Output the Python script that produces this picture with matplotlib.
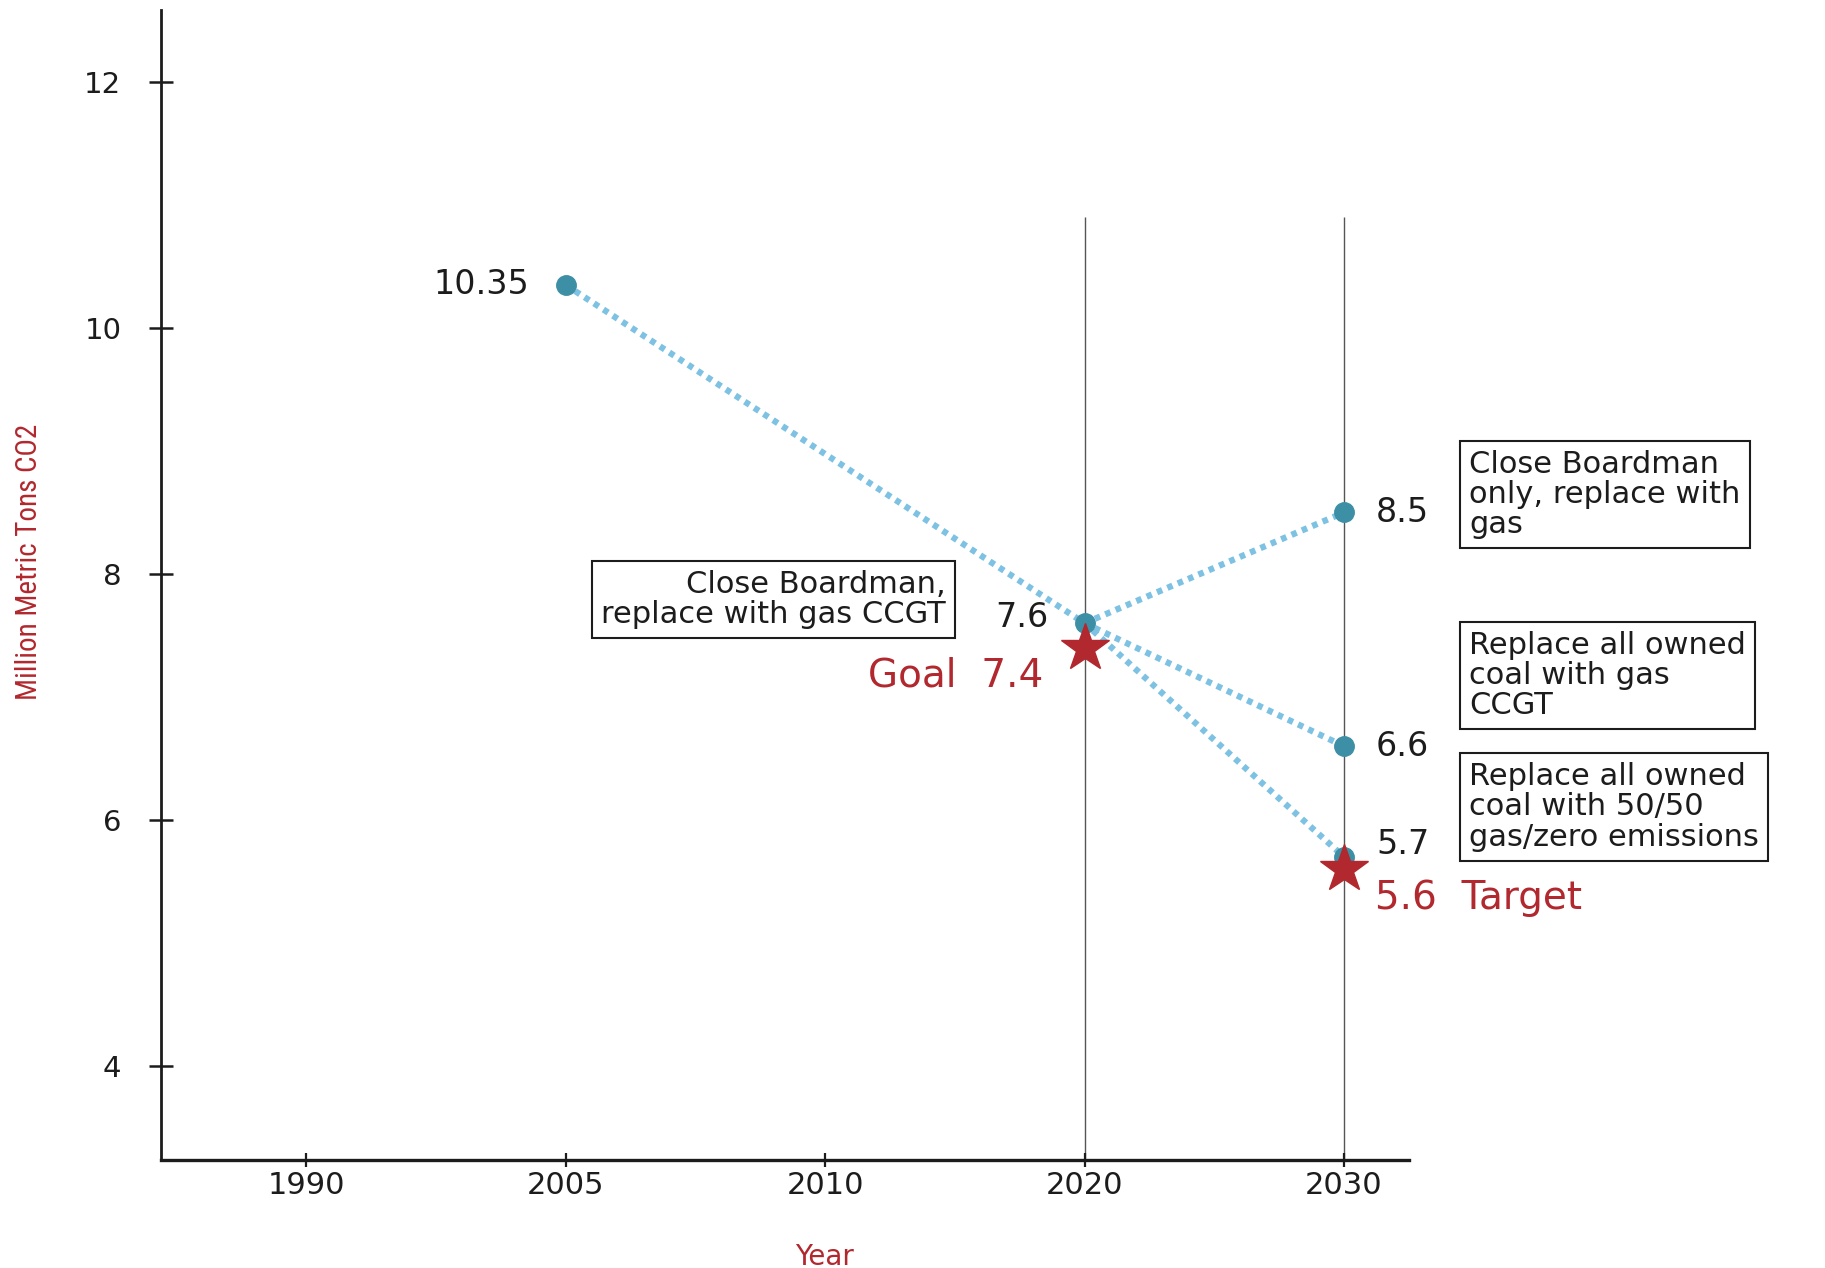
import matplotlib
matplotlib.use("Agg")
import matplotlib.pyplot as plt
from matplotlib import font_manager

# emissions path, million metric tons CO2
years = ["1990", "2005", "2010", "2020", "2030"]
hist_x = [1, 3]
hist_y = [10.35, 7.6]
scenario_y = [8.5, 6.6, 5.7]
scenario_notes = [
    "Close Boardman\nonly, replace with\ngas",
    "Replace all owned\ncoal with gas\nCCGT",
    "Replace all owned\ncoal with 50/50\ngas/zero emissions",
]
goal_2020 = 7.4
target_2030 = 5.6
yticks = [4, 6, 8, 10, 12]

RED = "#b1282e"
TEAL = "#3d8fa6"
DOTS = "#7dc1e3"
INK = "#1c1c1c"

plt.rcParams["font.family"] = ["DejaVu Sans"]

# narrow face for the axis title, if one is around
available = {f.name for f in font_manager.fontManager.ttflist}
narrow = "DejaVu Sans"
for name in ["Liberation Sans Narrow", "DejaVu Sans Condensed", "Roboto Condensed"]:
    if name in available:
        narrow = name
        break

fig = plt.figure(figsize=(18.25, 12.68), dpi=100)
ax = fig.add_axes([0.0882, 0.0852, 0.6838, 0.9069])
ax.set_xlim(-0.56, 4.25)
ax.set_ylim(3.236, 12.585)

for s in ["top", "right"]:
    ax.spines[s].set_visible(False)
ax.spines["left"].set_linewidth(2.0)
ax.spines["bottom"].set_linewidth(2.4)
ax.spines["left"].set_color(INK)
ax.spines["bottom"].set_color(INK)

ax.set_xticks(range(len(years)))
ax.set_xticklabels(years)
ax.set_yticks(yticks)
ax.tick_params(axis="y", direction="inout", length=17, width=1.8, pad=20,
               labelsize=21, colors=INK)
ax.tick_params(axis="x", direction="inout", length=10, width=1.6, pad=3,
               labelsize=22, colors=INK)

# reference lines for the projection years
ax.vlines([3, 4], ax.get_ylim()[0], 10.9, color="#555555", lw=1.0, zorder=1)

# dotted paths
style = dict(color=DOTS, lw=4.5, ls=(0, (0.9, 0.9)), dash_capstyle="butt", zorder=2)
ax.plot(hist_x, hist_y, **style)
for v in scenario_y:
    ax.plot([3, 4], [hist_y[-1], v], **style)

ax.plot(hist_x, hist_y, "o", color=TEAL, ms=14, zorder=4)
ax.plot([4] * len(scenario_y), scenario_y, "o", color=TEAL, ms=14, zorder=4)

ax.plot(3, goal_2020, "*", color=RED, ms=36, mec=RED, zorder=5)
ax.plot(4, target_2030, "*", color=RED, ms=36, mec=RED, zorder=5)

# value labels
ax.annotate(f"{hist_y[0]:.2f}", (hist_x[0], hist_y[0]), xytext=(-26, 0),
            textcoords="offset points", ha="right", va="center", fontsize=24, color=INK)
ax.annotate(f"{hist_y[1]}", (hist_x[1], hist_y[1]), xytext=(-26, 4),
            textcoords="offset points", ha="right", va="center", fontsize=24, color=INK)
ax.annotate(f"Goal  {goal_2020}", (3, goal_2020), xytext=(-30, -20),
            textcoords="offset points", ha="right", va="center", fontsize=28, color=RED)
ax.annotate(f"{target_2030}  Target", (4, target_2030), xytext=(22, -21),
            textcoords="offset points", ha="left", va="center", fontsize=28, color=RED)

box = dict(boxstyle="square,pad=0.3", fc="white", ec=INK, lw=1.5)
ax.annotate("Close Boardman,\nreplace with gas CCGT", (3, hist_y[1]), xytext=(-100, 17),
            textcoords="offset points", ha="right", va="center", fontsize=22,
            multialignment="right", linespacing=1.05, color=INK, bbox=box)

note_dy = [13, 51, 36]
label_dy = [0, 0, 9]
for v, note, dy, ldy in zip(scenario_y, scenario_notes, note_dy, label_dy):
    ax.annotate(f"{v}", (4, v), xytext=(23, ldy), textcoords="offset points",
                ha="left", va="center", fontsize=24, color=INK)
    ax.annotate(note, (4, v), xytext=(90, dy), textcoords="offset points",
                ha="left", va="center", fontsize=22, linespacing=1.05,
                color=INK, bbox=box, annotation_clip=False)

ax.set_ylabel("Million Metric Tons CO2", color=RED, fontsize=21, family=[narrow, "DejaVu Sans"])
ax.yaxis.set_label_coords(-0.0946, 0.52)
ax.set_xlabel("Year", color=RED, fontsize=20)
ax.xaxis.set_label_coords(0.532, -0.072)

fig.savefig("out.png", dpi=100, facecolor="white")
